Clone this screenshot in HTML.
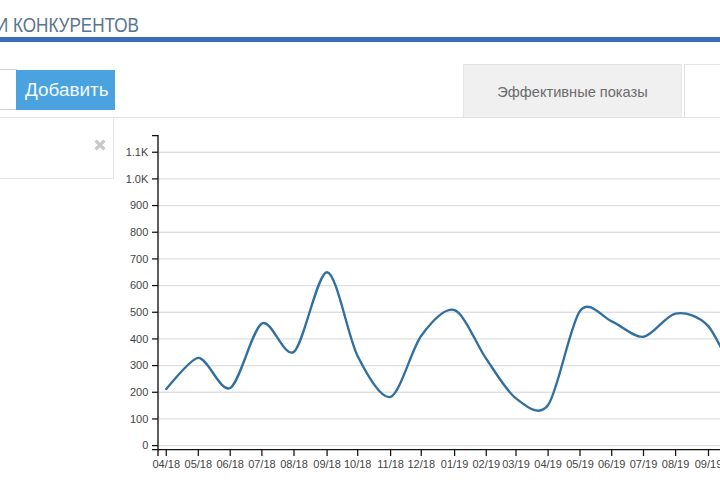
<!DOCTYPE html>
<html><head><meta charset="utf-8">
<style>
html,body{margin:0;padding:0;width:720px;height:480px;overflow:hidden;background:#fff;font-family:"Liberation Sans",sans-serif;}
.abs{position:absolute;}
.title{left:-4.4px;top:12.5px;font-size:19.6px;color:#587490;white-space:nowrap;line-height:24px;transform-origin:0 0;transform:scaleX(0.872);}
.bar{left:0;top:37px;width:720px;height:4.5px;background:#3b6dbd;}
.input{left:-10px;top:69px;width:25px;height:39px;border:1px solid #cfcfcf;background:#fff;}
.btn{left:16px;top:69.5px;width:98.5px;height:40px;background:#4aa2df;color:#f0faff;font-size:18.9px;line-height:39px;text-indent:9px;}
.hline{left:0;top:117px;width:720px;height:1px;background:#e2e2e2;}
.panel{left:-10px;top:118px;width:123px;height:60px;border-right:1px solid #e6e6e6;border-bottom:1px solid #e6e6e6;}
.x{left:93.3px;top:138.2px;width:14px;height:14px;}
.tab{left:463px;top:64px;width:219px;height:53px;background:#f0f0f0;border:1px solid #e4e4e4;border-bottom:none;border-right-color:#e9e9e9;box-sizing:border-box;color:#6b6b6b;font-size:14.6px;text-align:center;line-height:55px;}
.tab2{left:684px;top:64px;width:50px;height:54px;border-left:1px solid #e0e0e0;border-top:1px solid #e4e4e4;box-sizing:border-box;}
svg text{font-family:"Liberation Sans",sans-serif;font-size:11px;fill:#444;}
</style></head><body>
<div class="abs title">И КОНКУРЕНТОВ</div>
<div class="abs bar"></div>
<div class="abs input"></div>
<div class="abs btn">Добавить</div>
<div class="abs hline"></div>
<div class="abs panel"></div>
<svg class="abs x" viewBox="0 0 14 14"><path d="M2.6,2.6L11.4,11.4M11.4,2.6L2.6,11.4" stroke="#c8c8c8" stroke-width="3.4"/></svg>
<div class="abs tab">Эффективные показы</div>
<div class="abs tab2"></div>
<svg width="720" height="480" style="position:absolute;left:0;top:0">
<line x1="158" x2="720" y1="445.60" y2="445.60" stroke="#dfdfdf" stroke-width="1.3"/>
<line x1="158" x2="720" y1="418.93" y2="418.93" stroke="#dfdfdf" stroke-width="1.3"/>
<line x1="158" x2="720" y1="392.26" y2="392.26" stroke="#dfdfdf" stroke-width="1.3"/>
<line x1="158" x2="720" y1="365.59" y2="365.59" stroke="#dfdfdf" stroke-width="1.3"/>
<line x1="158" x2="720" y1="338.92" y2="338.92" stroke="#dfdfdf" stroke-width="1.3"/>
<line x1="158" x2="720" y1="312.25" y2="312.25" stroke="#dfdfdf" stroke-width="1.3"/>
<line x1="158" x2="720" y1="285.58" y2="285.58" stroke="#dfdfdf" stroke-width="1.3"/>
<line x1="158" x2="720" y1="258.91" y2="258.91" stroke="#dfdfdf" stroke-width="1.3"/>
<line x1="158" x2="720" y1="232.24" y2="232.24" stroke="#dfdfdf" stroke-width="1.3"/>
<line x1="158" x2="720" y1="205.57" y2="205.57" stroke="#dfdfdf" stroke-width="1.3"/>
<line x1="158" x2="720" y1="178.90" y2="178.90" stroke="#dfdfdf" stroke-width="1.3"/>
<line x1="158" x2="720" y1="152.23" y2="152.23" stroke="#dfdfdf" stroke-width="1.3"/>
<path d="M152,135.6H158V449.6H152" fill="none" stroke="#111" stroke-width="1.35"/>
<line x1="152" x2="158" y1="445.60" y2="445.60" stroke="#111" stroke-width="1.25"/>
<text x="148.3" y="445.30" text-anchor="end" dominant-baseline="central">0</text>
<line x1="152" x2="158" y1="418.93" y2="418.93" stroke="#111" stroke-width="1.25"/>
<text x="148.3" y="418.63" text-anchor="end" dominant-baseline="central">100</text>
<line x1="152" x2="158" y1="392.26" y2="392.26" stroke="#111" stroke-width="1.25"/>
<text x="148.3" y="391.96" text-anchor="end" dominant-baseline="central">200</text>
<line x1="152" x2="158" y1="365.59" y2="365.59" stroke="#111" stroke-width="1.25"/>
<text x="148.3" y="365.29" text-anchor="end" dominant-baseline="central">300</text>
<line x1="152" x2="158" y1="338.92" y2="338.92" stroke="#111" stroke-width="1.25"/>
<text x="148.3" y="338.62" text-anchor="end" dominant-baseline="central">400</text>
<line x1="152" x2="158" y1="312.25" y2="312.25" stroke="#111" stroke-width="1.25"/>
<text x="148.3" y="311.95" text-anchor="end" dominant-baseline="central">500</text>
<line x1="152" x2="158" y1="285.58" y2="285.58" stroke="#111" stroke-width="1.25"/>
<text x="148.3" y="285.28" text-anchor="end" dominant-baseline="central">600</text>
<line x1="152" x2="158" y1="258.91" y2="258.91" stroke="#111" stroke-width="1.25"/>
<text x="148.3" y="258.61" text-anchor="end" dominant-baseline="central">700</text>
<line x1="152" x2="158" y1="232.24" y2="232.24" stroke="#111" stroke-width="1.25"/>
<text x="148.3" y="231.94" text-anchor="end" dominant-baseline="central">800</text>
<line x1="152" x2="158" y1="205.57" y2="205.57" stroke="#111" stroke-width="1.25"/>
<text x="148.3" y="205.27" text-anchor="end" dominant-baseline="central">900</text>
<line x1="152" x2="158" y1="178.90" y2="178.90" stroke="#111" stroke-width="1.25"/>
<text x="148.3" y="178.60" text-anchor="end" dominant-baseline="central">1.0K</text>
<line x1="152" x2="158" y1="152.23" y2="152.23" stroke="#111" stroke-width="1.25"/>
<text x="148.3" y="151.93" text-anchor="end" dominant-baseline="central">1.1K</text>
<path d="M158,456V449.6H720" fill="none" stroke="#111" stroke-width="1.35"/>
<line x1="166.25" x2="166.25" y1="449.6" y2="456" stroke="#111" stroke-width="1.25"/>
<text x="166.25" y="467.7" text-anchor="middle">04/18</text>
<line x1="198.30" x2="198.30" y1="449.6" y2="456" stroke="#111" stroke-width="1.25"/>
<text x="198.30" y="467.7" text-anchor="middle">05/18</text>
<line x1="230.20" x2="230.20" y1="449.6" y2="456" stroke="#111" stroke-width="1.25"/>
<text x="230.20" y="467.7" text-anchor="middle">06/18</text>
<line x1="261.90" x2="261.90" y1="449.6" y2="456" stroke="#111" stroke-width="1.25"/>
<text x="261.90" y="467.7" text-anchor="middle">07/18</text>
<line x1="294.00" x2="294.00" y1="449.6" y2="456" stroke="#111" stroke-width="1.25"/>
<text x="294.00" y="467.7" text-anchor="middle">08/18</text>
<line x1="327.10" x2="327.10" y1="449.6" y2="456" stroke="#111" stroke-width="1.25"/>
<text x="327.10" y="467.7" text-anchor="middle">09/18</text>
<line x1="357.70" x2="357.70" y1="449.6" y2="456" stroke="#111" stroke-width="1.25"/>
<text x="357.70" y="467.7" text-anchor="middle">10/18</text>
<line x1="390.60" x2="390.60" y1="449.6" y2="456" stroke="#111" stroke-width="1.25"/>
<text x="390.60" y="467.7" text-anchor="middle">11/18</text>
<line x1="421.25" x2="421.25" y1="449.6" y2="456" stroke="#111" stroke-width="1.25"/>
<text x="421.25" y="467.7" text-anchor="middle">12/18</text>
<line x1="454.60" x2="454.60" y1="449.6" y2="456" stroke="#111" stroke-width="1.25"/>
<text x="454.60" y="467.7" text-anchor="middle">01/19</text>
<line x1="486.25" x2="486.25" y1="449.6" y2="456" stroke="#111" stroke-width="1.25"/>
<text x="486.25" y="467.7" text-anchor="middle">02/19</text>
<line x1="516.00" x2="516.00" y1="449.6" y2="456" stroke="#111" stroke-width="1.25"/>
<text x="516.00" y="467.7" text-anchor="middle">03/19</text>
<line x1="548.10" x2="548.10" y1="449.6" y2="456" stroke="#111" stroke-width="1.25"/>
<text x="548.10" y="467.7" text-anchor="middle">04/19</text>
<line x1="580.00" x2="580.00" y1="449.6" y2="456" stroke="#111" stroke-width="1.25"/>
<text x="580.00" y="467.7" text-anchor="middle">05/19</text>
<line x1="611.70" x2="611.70" y1="449.6" y2="456" stroke="#111" stroke-width="1.25"/>
<text x="611.70" y="467.7" text-anchor="middle">06/19</text>
<line x1="643.50" x2="643.50" y1="449.6" y2="456" stroke="#111" stroke-width="1.25"/>
<text x="643.50" y="467.7" text-anchor="middle">07/19</text>
<line x1="675.60" x2="675.60" y1="449.6" y2="456" stroke="#111" stroke-width="1.25"/>
<text x="675.60" y="467.7" text-anchor="middle">08/19</text>
<line x1="708.50" x2="708.50" y1="449.6" y2="456" stroke="#111" stroke-width="1.25"/>
<text x="708.50" y="467.7" text-anchor="middle">09/19</text>
<path d="M166.25,389.06Q191.91,357.96 198.30,357.86C207.89,357.70 220.66,393.15 230.20,387.99C239.74,382.83 252.33,328.89 261.90,323.45C271.47,318.01 284.22,359.40 294.00,351.72C303.78,344.04 317.55,271.56 327.10,272.25C336.66,272.93 348.18,337.57 357.70,356.26C367.22,374.94 381.07,399.87 390.60,396.79C400.13,393.71 411.65,348.72 421.25,335.72C430.85,322.72 444.85,306.64 454.60,310.12C464.35,313.60 477.04,345.68 486.25,358.92C495.46,372.16 506.72,391.47 516.00,398.39C525.28,405.31 538.50,418.18 548.10,405.06C557.70,391.94 570.46,323.48 580.00,310.92C589.54,298.35 602.18,317.44 611.70,321.32C621.23,325.20 633.91,337.95 643.50,336.79C653.09,335.63 665.85,315.14 675.60,313.58C685.35,312.02 698.76,315.38 708.50,326.39Q714.99,333.72 740.50,386.93" fill="none" stroke="#306fa0" stroke-width="2.35" stroke-linecap="round" stroke-linejoin="round"/>
</svg></body></html>
